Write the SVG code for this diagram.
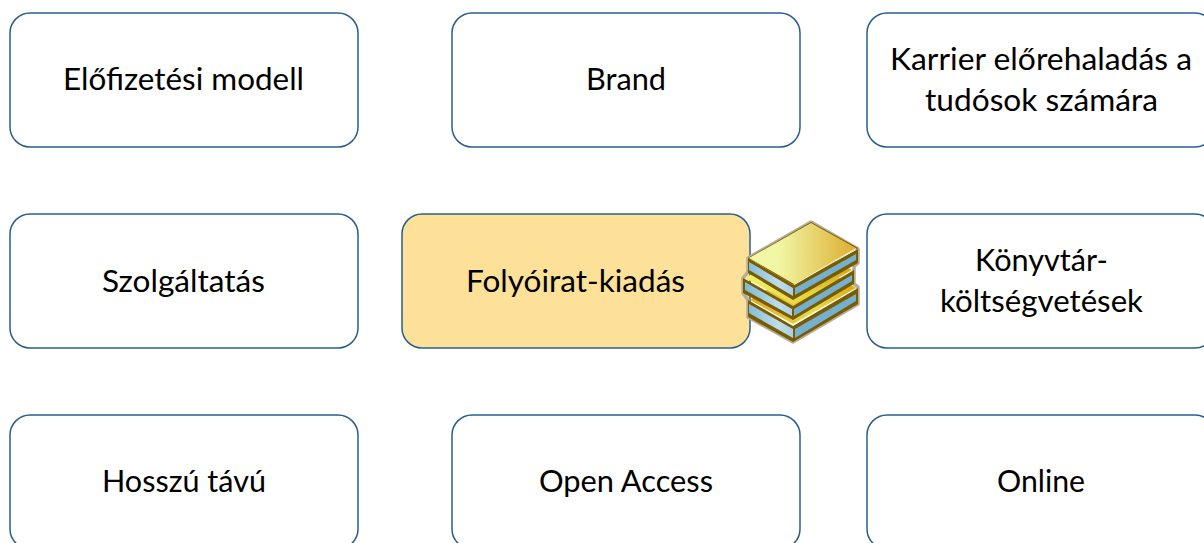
<svg xmlns="http://www.w3.org/2000/svg" width="1204" height="543" viewBox="0 0 1204 543">
<style>
.n{fill:#fff;stroke:#2a5d8f;stroke-width:1.5}
.t{font-family:Lato,"Open Sans","Liberation Sans",sans-serif;font-size:31px;fill:#000;text-anchor:middle}
.halo{fill:none;stroke:#b5ad9c;stroke-width:3.5;stroke-linejoin:round}
.edge{fill:#7a5c00}
.bl{fill:url(#blue)}
.br{fill:#74b0cf}
</style>
<defs>
<linearGradient id="c1" gradientUnits="userSpaceOnUse" x1="748" y1="0" x2="858" y2="0"><stop offset="0" stop-color="#f2f7a8"/><stop offset=".28" stop-color="#f1f6a4"/><stop offset="1" stop-color="#dcab2c"/></linearGradient>
<linearGradient id="c2" gradientUnits="userSpaceOnUse" x1="744" y1="0" x2="854" y2="0"><stop offset="0" stop-color="#f0f26c"/><stop offset=".5" stop-color="#e8d848"/><stop offset="1" stop-color="#d8a818"/></linearGradient>
<linearGradient id="c3" gradientUnits="userSpaceOnUse" x1="748" y1="0" x2="858" y2="0"><stop offset="0" stop-color="#e0a818"/><stop offset=".6" stop-color="#e6dc48"/><stop offset="1" stop-color="#dca812"/></linearGradient>
<linearGradient id="blue" gradientUnits="userSpaceOnUse" x1="748" y1="0" x2="795" y2="0"><stop offset="0" stop-color="#82bcd8"/><stop offset=".65" stop-color="#bfdcec"/><stop offset="1" stop-color="#a4cfe2"/></linearGradient>
</defs>
<g id="connectors"></g>
<g id="node-elofizetesi"><rect class="n" x="10" y="13" width="348" height="134" rx="20"/><text class="t" x="183.500" y="90" textLength="241" lengthAdjust="spacingAndGlyphs">Előfizetési modell</text></g>
<g id="node-brand"><rect class="n" x="452" y="13" width="348" height="134" rx="20"/><text class="t" x="626" y="90" textLength="80" lengthAdjust="spacingAndGlyphs">Brand</text></g>
<g id="node-karrier"><rect class="n" x="867" y="13" width="348" height="134" rx="20"/><text class="t" x="1041" y="70" textLength="302" lengthAdjust="spacingAndGlyphs">Karrier előrehaladás a</text><text class="t" x="1041.500" y="111" textLength="233" lengthAdjust="spacingAndGlyphs">tudósok számára</text></g>
<g id="node-szolgaltatas"><rect class="n" x="10" y="214" width="348" height="134" rx="20"/><text class="t" x="183.500" y="292" textLength="163" lengthAdjust="spacingAndGlyphs">Szolgáltatás</text></g>
<g id="node-folyoirat"><rect x="402" y="214" width="348" height="134" rx="20" fill="#fde199" stroke="#2a5d8f" stroke-width="1.5"/><text class="t" x="575.500" y="292" textLength="219" lengthAdjust="spacingAndGlyphs">Folyóirat-kiadás</text></g>
<g id="node-konyvtar"><rect class="n" x="867" y="214" width="348" height="134" rx="20"/><text class="t" x="1041.500" y="271" textLength="133" lengthAdjust="spacingAndGlyphs">Könyvtár-</text><text class="t" x="1041.500" y="312" textLength="203" lengthAdjust="spacingAndGlyphs">költségvetések</text></g>
<g id="node-hosszu"><rect class="n" x="10" y="415" width="348" height="134" rx="20"/><text class="t" x="184" y="492" textLength="164" lengthAdjust="spacingAndGlyphs">Hosszú távú</text></g>
<g id="node-open"><rect class="n" x="452" y="415" width="348" height="134" rx="20"/><text class="t" x="626" y="492" textLength="174" lengthAdjust="spacingAndGlyphs">Open Access</text></g>
<g id="node-online"><rect class="n" x="867" y="415" width="348" height="134" rx="20"/><text class="t" x="1041" y="492" textLength="88" lengthAdjust="spacingAndGlyphs">Online</text></g>
<g id="books">
<path class="halo" d="M811 222L858 249V263L854 266V284L858 287V304L793 342L748 317V300L743 293V278L748 272V258Z"/>
<!-- bottom book -->
<path class="edge" d="M748 300L793 326L858 288V304L793 342L748 317Z"/>
<path class="bl" d="M749 304L793 329V338L749 313Z"/>
<path class="br" d="M795 329L856 294V301L795 338Z"/>
<path d="M750 300L793 324L856 288L811 262Z" fill="url(#c3)"/>
<!-- middle book -->
<path class="edge" d="M743 278L793 306L854 270V284L793 320L743 293Z"/>
<path class="bl" d="M745 282L792 309V316L745 290Z"/>
<path class="br" d="M794 309L852 275V281L794 316Z"/>
<path d="M745 278L793 304L852 270L805 243Z" fill="url(#c2)"/>
<!-- top book -->
<path class="edge" d="M748 258L793 285L858 249V263L793 300L748 273Z"/>
<path class="bl" d="M749 262L793 288V296L749 270Z"/>
<path class="br" d="M795 288L856 254V260L795 295Z"/>
<path d="M811 222L858 248L793 285L748 258Z" fill="#7a5c00"/>
<path d="M811 223L856 248L794 284L749 258Z" fill="url(#c1)"/>
<path d="M856 248.500L794 284.500" stroke="#fdf6c8" stroke-width="1.200" fill="none"/>
</g>
</svg>
